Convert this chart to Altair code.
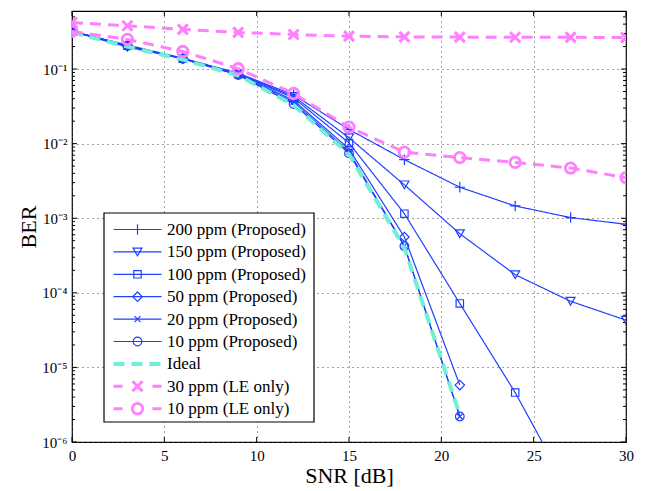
import altair as alt
import pandas as pd

# ---------------- data ----------------
snr = [0, 3, 6, 9, 12, 15, 18, 21, 24, 27, 30]

names = [
    "200 ppm (Proposed)", "150 ppm (Proposed)", "100 ppm (Proposed)",
    "50 ppm (Proposed)", "20 ppm (Proposed)", "10 ppm (Proposed)",
    "Ideal", "30 ppm (LE only)", "10 ppm (LE only)",
]
ber_200 = [0.32, 0.21, 0.14, 0.088, 0.045, 0.0155, 0.0061, 0.0026, 0.00146, 0.00102, 0.00083]
ber_150 = [0.32, 0.197, 0.138, 0.086, 0.043, 0.012, 0.0028, 0.00062, 0.000175, 0.000077, 0.000043]
ber_100 = [0.32, 0.205, 0.138, 0.086, 0.041, 0.0102, 0.00115, 0.000072, 0.0000046, 0.0000002]
ber_50 = [0.32, 0.205, 0.138, 0.085, 0.038, 0.0085, 0.00056, 0.0000058]
ber_20 = [0.32, 0.205, 0.138, 0.084, 0.036, 0.0078, 0.00043, 0.0000022]
ber_10 = [0.32, 0.205, 0.137, 0.083, 0.034, 0.0074, 0.00042, 0.0000022]
ber_ideal = [0.31, 0.2, 0.134, 0.082, 0.033, 0.0072, 0.0004, 0.0000023]
ber_le30 = [0.42, 0.38, 0.34, 0.31, 0.29, 0.276, 0.27, 0.268, 0.267, 0.266, 0.265]
ber_le10 = [0.32, 0.25, 0.172, 0.101, 0.047, 0.0166, 0.0077, 0.0065, 0.0056, 0.0047, 0.0035]
series_values = [ber_200, ber_150, ber_100, ber_50, ber_20, ber_10, ber_ideal, ber_le30, ber_le10]

x_ticks = [0, 5, 10, 15, 20, 25, 30]
y_decades = [1e-6, 1e-5, 1e-4, 1e-3, 1e-2, 1e-1]
y_minor = [k * d for d in y_decades for k in range(2, 10) if k * d <= 0.6]

# ---------------- styles ----------------
BLUE = "#2040ff"
PINK = "#ff80ff"
CYAN = "#6ef0d4"
PLUS = "M-1,0H1M0,-1V1"
XMARK = "M-1,-1L1,1M-1,1L1,-1"
styles = [
    dict(color=BLUE, width=1.2, dash=[1, 0], shape=PLUS, size=110, msw=1.2),
    dict(color=BLUE, width=1.2, dash=[1, 0], shape="triangle-down", size=80, msw=1.2),
    dict(color=BLUE, width=1.2, dash=[1, 0], shape="square", size=55, msw=1.2),
    dict(color=BLUE, width=1.2, dash=[1, 0], shape="diamond", size=90, msw=1.2),
    dict(color=BLUE, width=1.2, dash=[1, 0], shape=XMARK, size=36, msw=1.2),
    dict(color=BLUE, width=1.2, dash=[1, 0], shape="circle", size=75, msw=1.2),
    dict(color=CYAN, width=4, dash=[11, 7], shape=None, size=0, msw=0),
    dict(color=PINK, width=3, dash=[11, 7], shape=XMARK, size=100, msw=3),
    dict(color=PINK, width=3, dash=[11, 7], shape="circle", size=110, msw=2.8),
]

W, H = 554, 431
FONT = "Liberation Serif, Times New Roman, serif"

x_scale = alt.Scale(domain=[0, 30], nice=False, zero=False)
y_scale = alt.Scale(type="log", domain=[1e-6, 0.6], nice=False)

x_axis = alt.Axis(values=x_ticks, title="SNR [dB]", grid=True, gridDash=[1, 4],
                  gridColor="#444", ticks=False, domain=False, labelPadding=6,
                  labelFont=FONT, labelFontSize=15, labelColor="#000",
                  titleFont=FONT, titleFontSize=22, titleFontWeight="normal",
                  titleColor="#000", titlePadding=2, labelFlush=False)
y_axis = alt.Axis(values=y_decades, title="BER", grid=True, gridDash=[1, 4],
                  gridColor="#444", ticks=False, domain=False, labelPadding=5,
                  labelFont=FONT, labelFontSize=15, labelColor="#000",
                  labelExpr="'10⁻' + ['⁰','¹','²','³','⁴','⁵','⁶'][round(-log(datum.value)/LN10)]",
                  titleFont=FONT, titleFontSize=22, titleFontWeight="normal",
                  titleColor="#000", titlePadding=1, labelFlush=False)


def X(field):
    return alt.X(field, type="quantitative", scale=x_scale, axis=x_axis)


def Y(field):
    return alt.Y(field, type="quantitative", scale=y_scale, axis=y_axis)


layers = []

# tick marks (inward) drawn from the tick lists
xt = pd.DataFrame({"x": x_ticks})
layers.append(alt.Chart(xt).mark_rule(color="#000", strokeWidth=1).encode(
    x=X("x"), y=alt.value(H), y2=alt.value(H - 5)))
layers.append(alt.Chart(xt).mark_rule(color="#000", strokeWidth=1).encode(
    x=X("x"), y=alt.value(0), y2=alt.value(5)))
ym = pd.DataFrame({"y": y_minor})
yM = pd.DataFrame({"y": y_decades})
for d, ln in ((ym, 3), (yM, 5)):
    layers.append(alt.Chart(d).mark_rule(color="#000", strokeWidth=1).encode(
        y=Y("y"), x=alt.value(0), x2=alt.value(ln)))
    layers.append(alt.Chart(d).mark_rule(color="#000", strokeWidth=1).encode(
        y=Y("y"), x=alt.value(W), x2=alt.value(W - ln)))

# data series
for name, vals, st in zip(names, series_values, styles):
    df = pd.DataFrame({"snr": snr[:len(vals)], "ber": vals, "series": name})
    layers.append(alt.Chart(df).mark_line(
        clip=True, color=st["color"], strokeWidth=st["width"], strokeDash=st["dash"]
    ).encode(x=X("snr"), y=Y("ber")))
    if st["shape"]:
        layers.append(alt.Chart(df).mark_point(
            clip=True, shape=st["shape"], size=st["size"], filled=False,
            color=st["color"], strokeWidth=st["msw"], opacity=1
        ).encode(x=X("snr"), y=Y("ber")))

# legend (drawn manually)
LX0, LX1, LY0, LY1 = 32, 242, 202, 411
layers.append(alt.Chart(pd.DataFrame({"a": [0]})).mark_rect(
    fill="white", stroke="#000", strokeWidth=1.2).encode(
    x=alt.value(LX0), x2=alt.value(LX1), y=alt.value(LY0), y2=alt.value(LY1)))
for i, (name, st) in enumerate(zip(names, styles)):
    ry = 218.5 + 22.4 * i
    dd = pd.DataFrame({"label": [name]})
    dash = st["dash"]
    if name.endswith("(LE only)"):
        dash = [9, 30]
    layers.append(alt.Chart(dd).mark_rule(
        color=st["color"], strokeWidth=st["width"], strokeDash=dash).encode(
        x=alt.value(41.5), x2=alt.value(89.5), y=alt.value(ry)))
    if st["shape"]:
        layers.append(alt.Chart(dd).mark_point(
            shape=st["shape"], size=st["size"], filled=False, color=st["color"],
            strokeWidth=st["msw"], opacity=1).encode(
            x=alt.value(65.5), y=alt.value(ry)))
    layers.append(alt.Chart(dd).mark_text(
        align="left", baseline="middle", font=FONT, fontSize=17, color="#000").encode(
        x=alt.value(95), y=alt.value(ry + 0.5), text="label:N"))

chart = alt.layer(*layers).properties(
    width=W, height=H,
    autosize=alt.AutoSizeParams(type="none"),
    padding={"left": 72, "top": 11, "right": 19, "bottom": 49},
    background="white",
).configure_view(stroke="#000", strokeWidth=1.2)

chart.save("out.html", embed_options={"renderer": "svg", "actions": False})
